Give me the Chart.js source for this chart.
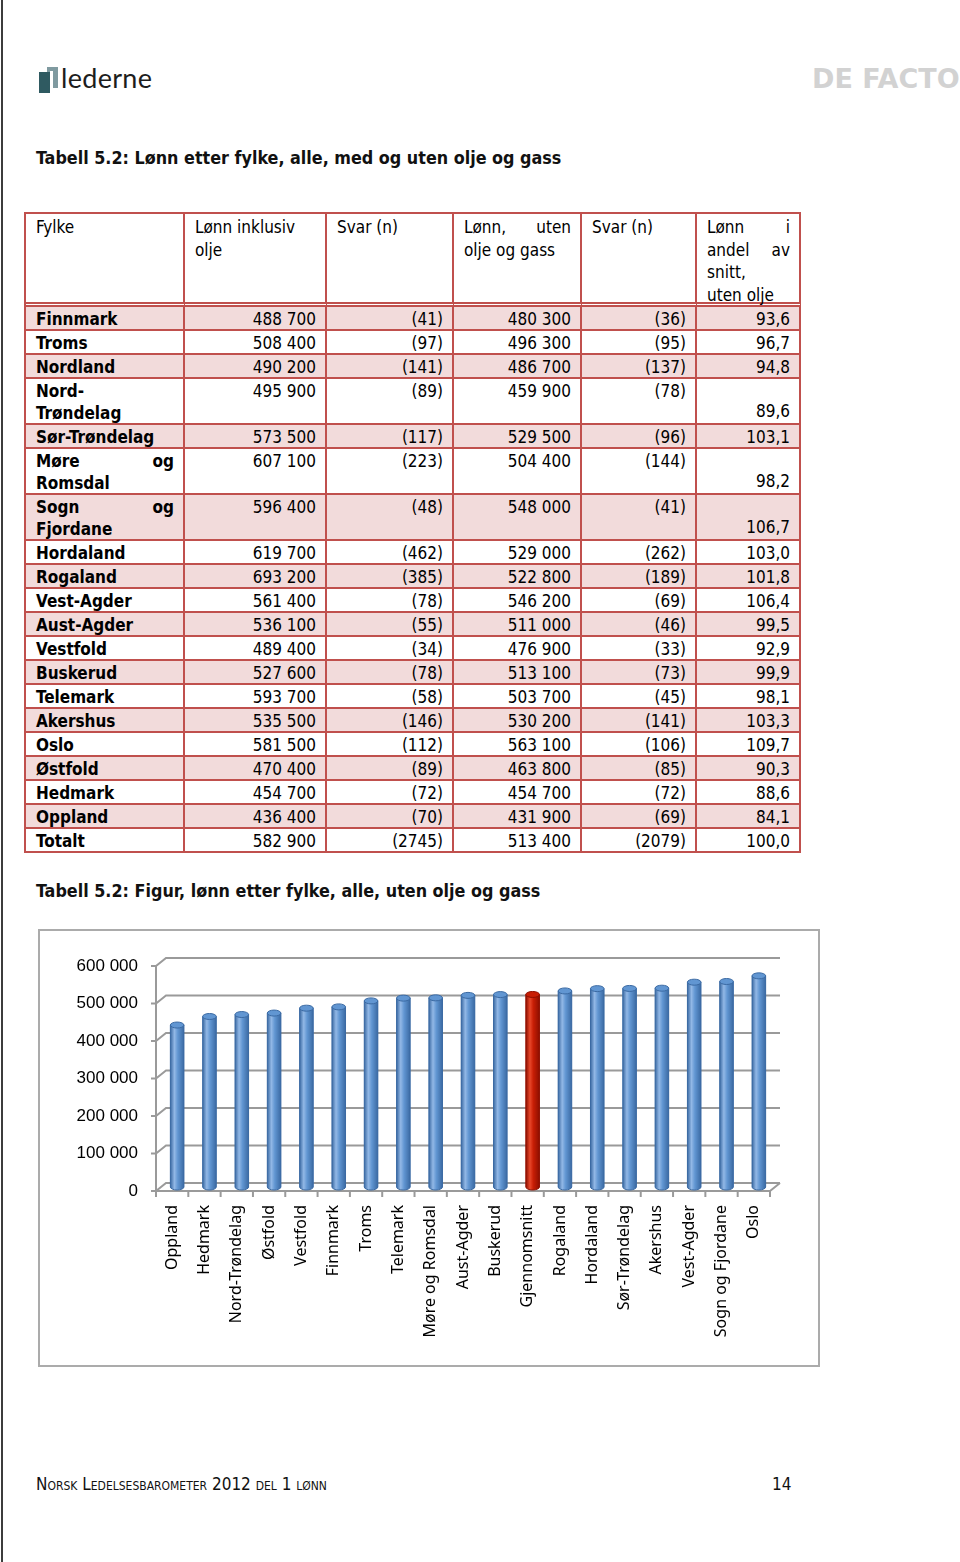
<!DOCTYPE html>
<html>
<head>
<meta charset="utf-8">
<script src="https://cdn.jsdelivr.net/npm/chart.js@4.4.0/dist/chart.umd.min.js"></script>
<style>
  html, body { margin: 0; padding: 0; background: #fff; }
  body {
    width: 960px; height: 1562px; position: relative; overflow: hidden;
    font-family: "DejaVu Sans Condensed", "DejaVu Sans", sans-serif; color: #000;
  }
  #pageLine { position: absolute; left: 1px; top: 0; width: 2px; height: 1562px; background: #3c3c3c; }
  #logo { position: absolute; left: 39px; top: 66px; }
  #logo .dark { position: absolute; left: 0; top: 6px; width: 11px; height: 21px; background: #2f5a61; }
  #logo .light { position: absolute; left: 8px; top: 1px; width: 11px; height: 21px; background: #7f9aa0; }
  #logo .gap { position: absolute; left: 11px; top: 5px; width: 3px; height: 17px; background: #fff; }
  #logo .word { position: absolute; left: 22px; top: -5px; font-family: Lato, "Open Sans", sans-serif; font-size: 27px; color: #1d1d1d; letter-spacing: 0.3px; }
  #defacto { position: absolute; left: 812px; top: 63px; font-family: "DejaVu Sans", sans-serif; font-size: 27px; font-weight: bold; color: #d2d2d2; letter-spacing: 0px; }
  .title { position: absolute; left: 36px; font-size: 17.8px; font-weight: bold; color: #111; }
  #table { position: absolute; left: 24px; top: 212px; border-left: 2px solid #c0504d; border-top: 2px solid #c0504d; }
  .row { display: flex; }
  .cell {
    box-sizing: border-box; border-right: 2px solid #c0504d; border-bottom: 2px solid #c0504d;
    padding: 1px 9px 0 10px; font-size: 17px; line-height: 22px; position: relative;
  }
  .hdr .cell { border-bottom: 5px double #c0504d; padding-top: 2px; line-height: 22.5px; }
  .pink .cell { background: #f2dbdb; }
  .num { text-align: right; }
  .name { font-weight: bold; }
  .just { display: flex; justify-content: space-between; }
  .bottom { position: absolute; right: 9px; bottom: 1px; }
  #chartBox { position: absolute; left: 38px; top: 929px; width: 778px; height: 434px; border: 2px solid #ababab; }
  #chartCanvas { position: absolute; left: 40px; top: 933px; }
  #footer { position: absolute; left: 36px; top: 1474px; font-size: 17px; font-variant: small-caps; color: #111; }
  #pageNo { position: absolute; left: 772px; top: 1474px; font-size: 17px; color: #111; }
</style>
</head>
<body>
<div id="pageLine"></div>
<div id="logo"><div class="light"></div><div class="dark"></div><div class="gap"></div><div class="word">lederne</div></div>
<div id="defacto">DE FACTO</div>

<div class="title" style="top:147px">Tabell 5.2: Lønn etter fylke, alle, med og uten olje og gass</div>
<div id="table"></div>
<div class="title" style="top:880px">Tabell 5.2: Figur, lønn etter fylke, alle, uten olje og gass</div>

<div id="chartBox"></div>
<canvas id="chartCanvas" width="778" height="432"></canvas>

<div id="footer">Norsk Ledelsesbarometer 2012 del 1 lønn</div>
<div id="pageNo">14</div>

<script>
// --- table data (read from the page) ---
const fylker = ['Finnmark', 'Troms', 'Nordland', 'Nord-Trøndelag', 'Sør-Trøndelag', 'Møre og Romsdal',
  'Sogn og Fjordane', 'Hordaland', 'Rogaland', 'Vest-Agder', 'Aust-Agder', 'Vestfold', 'Buskerud',
  'Telemark', 'Akershus', 'Oslo', 'Østfold', 'Hedmark', 'Oppland', 'Totalt'];
const lonnInkl = ['488 700', '508 400', '490 200', '495 900', '573 500', '607 100', '596 400', '619 700',
  '693 200', '561 400', '536 100', '489 400', '527 600', '593 700', '535 500', '581 500', '470 400',
  '454 700', '436 400', '582 900'];
const svarInkl = ['(41)', '(97)', '(141)', '(89)', '(117)', '(223)', '(48)', '(462)', '(385)', '(78)',
  '(55)', '(34)', '(78)', '(58)', '(146)', '(112)', '(89)', '(72)', '(70)', '(2745)'];
const lonnUten = ['480 300', '496 300', '486 700', '459 900', '529 500', '504 400', '548 000', '529 000',
  '522 800', '546 200', '511 000', '476 900', '513 100', '503 700', '530 200', '563 100', '463 800',
  '454 700', '431 900', '513 400'];
const svarUten = ['(36)', '(95)', '(137)', '(78)', '(96)', '(144)', '(41)', '(262)', '(189)', '(69)',
  '(46)', '(33)', '(73)', '(45)', '(141)', '(106)', '(85)', '(72)', '(69)', '(2079)'];
const andel = ['93,6', '96,7', '94,8', '89,6', '103,1', '98,2', '106,7', '103,0', '101,8', '106,4',
  '99,5', '92,9', '99,9', '98,1', '103,3', '109,7', '90,3', '88,6', '84,1', '100,0'];

// --- chart data (sorted, uten olje og gass) ---
const chartCategories = ['Oppland', 'Hedmark', 'Nord-Trøndelag', 'Østfold', 'Vestfold', 'Finnmark',
  'Troms', 'Telemark', 'Møre og Romsdal', 'Aust-Agder', 'Buskerud', 'Gjennomsnitt', 'Rogaland',
  'Hordaland', 'Sør-Trøndelag', 'Akershus', 'Vest-Agder', 'Sogn og Fjordane', 'Oslo'];
const chartValues = [431900, 454700, 459900, 463800, 476900, 480300, 496300, 503700, 504400, 511000,
  513100, 513400, 522800, 529000, 529500, 530200, 546200, 548000, 563100];
const highlightCategory = 'Gjennomsnitt';
const yTickValues = [0, 100000, 200000, 300000, 400000, 500000, 600000];

const colWidths = [159, 142, 127, 128, 115, 104];

function buildTable() {
  const table = document.getElementById('table');
  let html = '<div class="row hdr" style="height:93px">' +
    cell(0, 'Fylke') +
    cell(1, 'Lønn inklusiv olje') +
    cell(2, 'Svar (n)') +
    cell(3, '<div class="just"><span>Lønn,</span><span>uten</span></div>olje og gass') +
    cell(4, 'Svar (n)') +
    cell(5, '<div class="just"><span>Lønn</span><span>i</span></div><div class="just"><span>andel</span><span>av</span></div>snitt,<br>uten olje') +
    '</div>';

  fylker.forEach((name, i) => {
    let nameHtml = name;
    let tall = false;
    if (name === 'Nord-Trøndelag') {
      nameHtml = 'Nord-<br>Trøndelag';
      tall = true;
    } else if (name.includes(' og ')) {
      const parts = name.split(' og ');
      nameHtml = `<div class="just"><span>${parts[0]}</span><span>og</span></div>${parts[1]}`;
      tall = true;
    }
    const cls = i % 2 === 0 ? 'row pink' : 'row';
    html += `<div class="${cls}" style="height:${tall ? 46 : 24}px">` +
      cell(0, nameHtml, 'name') +
      cell(1, lonnInkl[i], 'num') +
      cell(2, svarInkl[i], 'num') +
      cell(3, lonnUten[i], 'num') +
      cell(4, svarUten[i], 'num') +
      cell(5, tall ? `<span class="bottom">${andel[i]}</span>` : andel[i], 'num') +
      '</div>';
  });
  table.innerHTML = html;
}

function cell(c, content, extra) {
  return `<div class="cell ${extra || ''}" style="width:${colWidths[c]}px">${content}</div>`;
}

buildTable();

// --- chart ---
const DX = 10; // depth offset of the back wall
const DY = 8;

function fmt(v) {
  return v === 0 ? '0' : v.toLocaleString('en-US').replace(/,/g, ' ');
}

function shadeBar(ctx, bar, dark, mid, light) {
  const w = bar.width;
  const x0 = bar.x - w / 2;
  const top = bar.y;
  const base = bar.base;
  const ry = 3;
  const grad = ctx.createLinearGradient(x0, 0, x0 + w, 0);
  grad.addColorStop(0, dark);
  grad.addColorStop(0.3, light);
  grad.addColorStop(0.55, mid);
  grad.addColorStop(1, dark);
  ctx.fillStyle = grad;
  ctx.beginPath();
  ctx.moveTo(x0, top);
  ctx.lineTo(x0, base);
  ctx.ellipse(bar.x, base, w / 2, ry, 0, Math.PI, 0, true);
  ctx.lineTo(x0 + w, top);
  ctx.closePath();
  ctx.fill();
  ctx.strokeStyle = dark;
  ctx.lineWidth = 1;
  ctx.stroke();
  // top cap
  ctx.beginPath();
  ctx.ellipse(bar.x, top, w / 2, ry, 0, 0, Math.PI * 2);
  ctx.fillStyle = mid;
  ctx.fill();
  ctx.stroke();
}

const pseudo3d = {
  id: 'pseudo3d',
  beforeDatasetsDraw(chart) {
    const { ctx, chartArea, scales } = chart;
    const { left, right, top, bottom } = chartArea;
    const x = scales.x;
    const y = scales.y;
    ctx.save();
    ctx.strokeStyle = '#9a9a9a';
    ctx.lineWidth = 2;
    // back wall gridlines + side wall diagonals
    y.ticks.forEach(t => {
      const py = y.getPixelForValue(t.value);
      ctx.beginPath();
      ctx.moveTo(left - 5, py);
      ctx.lineTo(left, py);
      ctx.lineTo(left + DX, py - DY);
      ctx.lineTo(right + DX, py - DY);
      ctx.stroke();
    });
    // left axis
    ctx.beginPath();
    ctx.moveTo(left, top);
    ctx.lineTo(left, bottom);
    ctx.stroke();
    // floor front edge
    ctx.beginPath();
    ctx.moveTo(left, bottom);
    ctx.lineTo(right, bottom);
    ctx.lineTo(right + DX, bottom - DY);
    ctx.stroke();
    // category tick marks
    const step = x.getPixelForValue(1) - x.getPixelForValue(0);
    for (let i = 0; i <= chartCategories.length; i++) {
      const px = x.getPixelForValue(0) - step / 2 + step * i;
      ctx.beginPath();
      ctx.moveTo(px, bottom);
      ctx.lineTo(px, bottom + 6);
      ctx.stroke();
    }
    ctx.restore();
    // bars sit halfway into the depth
    ctx.save();
    ctx.translate(DX / 2, -DY / 2);
  },
  afterDatasetsDraw(chart) {
    const { ctx } = chart;
    const meta = chart.getDatasetMeta(0);
    meta.data.forEach((bar, i) => {
      if (chartCategories[i] === highlightCategory) {
        shadeBar(ctx, bar, '#8e0f00', '#c81e05', '#e8472a');
      } else {
        shadeBar(ctx, bar, '#3b6aa3', '#6196d2', '#92b8e6');
      }
    });
    ctx.restore();
  }
};

new Chart(document.getElementById('chartCanvas'), {
  type: 'bar',
  data: {
    labels: chartCategories,
    datasets: [{
      data: chartValues,
      backgroundColor: chartCategories.map(c => c === highlightCategory ? '#c81e05' : '#6196d2'),
      borderWidth: 0,
      barPercentage: 0.42,
      categoryPercentage: 1
    }]
  },
  options: {
    responsive: false,
    animation: false,
    devicePixelRatio: 1,
    layout: { padding: { left: 0, top: 33, right: 48, bottom: 0 } },
    plugins: { legend: { display: false }, tooltip: { enabled: false } },
    scales: {
      x: {
        grid: { display: false, drawTicks: false },
        border: { display: false },
        ticks: {
          autoSkip: false,
          minRotation: 90,
          maxRotation: 90,
          padding: 14,
          color: '#000',
          font: { family: '"Noto Sans", "Open Sans", sans-serif', size: 16 }
        },
        afterFit(scale) { scale.height = 174; }
      },
      y: {
        min: 0,
        max: 600000,
        afterBuildTicks(scale) { scale.ticks = yTickValues.map(v => ({ value: v })); },
        grid: { display: false, drawTicks: false },
        border: { display: false },
        ticks: {
          padding: 18,
          color: '#000',
          font: { family: '"Liberation Sans", sans-serif', size: 17 },
          callback: v => fmt(v)
        },
        afterFit(scale) { scale.width = 116; }
      }
    }
  },
  plugins: [pseudo3d]
});
</script>
</body>
</html>
